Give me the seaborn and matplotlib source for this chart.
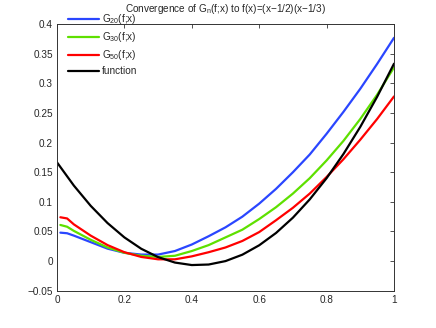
import numpy as np
import pandas as pd
import matplotlib
matplotlib.use('Agg')
import matplotlib.pyplot as plt
import seaborn as sns

# values
x_approx = [0.01, 0.03, 0.05, 0.10, 0.15, 0.20, 0.25, 0.30, 0.35, 0.40, 0.45,
            0.50, 0.55, 0.60, 0.65, 0.70, 0.75, 0.80, 0.85, 0.90, 0.95, 1.00]
g20 = [0.048, 0.047, 0.043, 0.032, 0.021, 0.014, 0.011, 0.011, 0.017, 0.028, 0.042,
       0.057, 0.075, 0.097, 0.122, 0.150, 0.180, 0.215, 0.252, 0.291, 0.333, 0.377]
g30 = [0.061, 0.058, 0.051, 0.036, 0.023, 0.014, 0.009, 0.007, 0.009, 0.017, 0.027,
       0.040, 0.053, 0.071, 0.091, 0.114, 0.140, 0.170, 0.203, 0.240, 0.281, 0.327]
g50 = [0.074, 0.072, 0.062, 0.043, 0.027, 0.015, 0.007, 0.003, 0.003, 0.008, 0.015,
       0.023, 0.034, 0.049, 0.069, 0.090, 0.114, 0.142, 0.172, 0.205, 0.240, 0.278]

x_func = [0.00, 0.05, 0.10, 0.15, 0.20, 0.25, 0.30, 0.35, 0.40, 0.45, 0.50,
          0.55, 0.60, 0.65, 0.70, 0.75, 0.80, 0.85, 0.90, 0.95, 1.00]
func = [0.1667, 0.1275, 0.0933, 0.0642, 0.0400, 0.0208, 0.0067, -0.0025, -0.0067, -0.0058, 0.0,
        0.0108, 0.0267, 0.0475, 0.0733, 0.1042, 0.1400, 0.1808, 0.2267, 0.2775, 0.3333]

labels = ['G$_{20}$(f;x)', 'G$_{30}$(f;x)', 'G$_{50}$(f;x)', 'function']
colors = ['#2a46ff', '#5ee000', '#ff0000', '#000000']

x_ticks = [0, 0.2, 0.4, 0.6, 0.8, 1]
x_ticklabels = ['0', '0.2', '0.4', '0.6', '0.8', '1']
y_ticks = [-0.05, 0, 0.05, 0.1, 0.15, 0.2, 0.25, 0.3, 0.35, 0.4]
y_ticklabels = ['\u22120.05', '0', '0.05', '0.1', '0.15', '0.2', '0.25', '0.3', '0.35', '0.4']

title = 'Convergence of G$_n$(f;x) to f(x)=(x\u22121/2)(x\u22121/3)'

sns.set_style('white')
plt.rcParams['font.family'] = ['Liberation Sans', 'DejaVu Sans']
plt.rcParams['mathtext.default'] = 'regular'
fs = 7.2
plt.rcParams['font.size'] = fs

fig = plt.figure(figsize=(4.36, 3.28), dpi=100)
ax = fig.add_axes([57 / 436, 1 - 290.7 / 328, 337 / 436, 266.5 / 328])

series = [(x_approx, g20), (x_approx, g30), (x_approx, g50), (x_func, func)]
for (xs, ys), lab, col in zip(series, labels, colors):
    sns.lineplot(x=xs, y=ys, ax=ax, color=col, lw=1.6, label=lab, sort=False)

ax.set_xlim(0, 1)
ax.set_ylim(-0.05, 0.4)
ax.set_xticks(x_ticks)
ax.set_xticklabels(x_ticklabels)
ax.set_yticks(y_ticks)
ax.set_yticklabels(y_ticklabels)
ax.tick_params(direction='in', length=3, width=0.6, top=True, right=True,
               labelsize=fs, pad=3, color='#333333')
for sp in ax.spines.values():
    sp.set_color('#333333')
    sp.set_linewidth(0.7)

ax.set_title(title, fontsize=fs, y=1 + 12 / 266.5, pad=0)

ax.legend(loc='upper left', bbox_to_anchor=(68 / 436, 1 - 12 / 328),
          bbox_transform=fig.transFigure, frameon=False, fontsize=fs,
          handlelength=3.1, handletextpad=0.3, labelspacing=0.4,
          borderpad=0, borderaxespad=0)

fig.savefig('out.png', dpi=100)
